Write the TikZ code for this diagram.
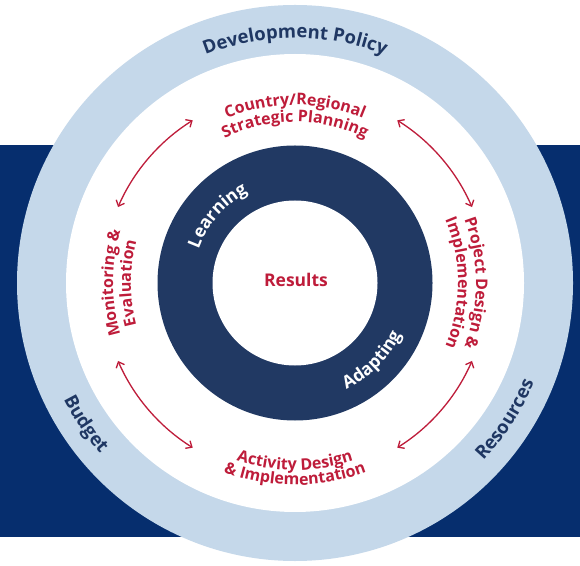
\documentclass[tikz,border=0pt]{standalone}
\usepackage{fontspec}
\setmainfont{Open Sans}
\usetikzlibrary{decorations.text,arrows.meta}
\definecolor{navybg}{RGB}{6,46,110}
\definecolor{ringdark}{RGB}{33,57,99}
\definecolor{lightband}{RGB}{197,216,234}
\definecolor{redc}{RGB}{190,28,58}
\definecolor{bandtext}{RGB}{31,55,99}
\newcommand{\redfmt}{\color{redc}\bfseries\fontsize{16}{16}\selectfont}
\newcommand{\bandfmt}{\color{bandtext}\bfseries\fontsize{18.5}{18.5}\selectfont}
\newcommand{\ringfmt}{\color{white}\bfseries\fontsize{17.5}{17.5}\selectfont}
\tikzset{
  arctext/.style={decorate, decoration={text along path, text align=center, text={#1}}},
  cyclearrow/.style={draw=redc, line width=1.3pt, {Straight Barb[length=5pt,width=9pt]}-{Straight Barb[length=5pt,width=9pt]}},
}
\begin{document}
\begin{tikzpicture}[x=1pt,y=1pt]
\useasboundingbox (0,0) rectangle (580,565);
\fill[white] (0,0) rectangle (580,565);
\fill[navybg] (0,28) rectangle (580,420);
\coordinate (C) at (295,282);
\coordinate (A) at (295,281);
\fill[lightband] (C) circle[radius=278pt];
\fill[white] (C) circle[radius=229pt];
\fill[ringdark] (C) circle[radius=137.5pt];
\fill[white] (C) circle[radius=82.5pt];
\node[font=\bfseries\fontsize{17.5}{17.5}\selectfont, text=redc] (results) at (296,285) {Results};
% outer band labels
\path[arctext={|\bandfmt|Development Policy}] ([shift={(150:245pt)}]C) arc[start angle=150, end angle=30, radius=245pt];
\path[arctext={|\bandfmt|Budget}] ([shift={(160:259pt)}]C) arc[start angle=160, end angle=268, radius=259pt];
\path[arctext={|\bandfmt|Resources}] ([shift={(-90:259pt)}]C) arc[start angle=-90, end angle=24, radius=259pt];
% dark ring labels
\path[arctext={|\ringfmt|Learning}] ([shift={(199:102pt)}]C) arc[start angle=199, end angle=79, radius=102pt];
\path[arctext={|\ringfmt|Adapting}] ([shift={(-105:118pt)}]C) arc[start angle=-105, end angle=15, radius=118pt];
% red labels
\path[arctext={|\redfmt|Country/Regional}] ([shift={(145:178pt)}]C) arc[start angle=145, end angle=35, radius=178pt];
\path[arctext={|\redfmt|Strategic Planning}] ([shift={(145:161pt)}]C) arc[start angle=145, end angle=35, radius=161pt];
\path[arctext={|\redfmt|Project Design {\&}}] ([shift={(55:181pt)}]C) arc[start angle=55, end angle=-55, radius=181pt];
\path[arctext={|\redfmt|Implementation}] ([shift={(55:163pt)}]C) arc[start angle=55, end angle=-55, radius=163pt];
\path[arctext={|\redfmt|Monitoring {\&}}] ([shift={(235:182pt)}]C) arc[start angle=235, end angle=125, radius=182pt];
\path[arctext={|\redfmt|Evaluation}] ([shift={(235:164pt)}]C) arc[start angle=235, end angle=125, radius=164pt];
\path[arctext={|\redfmt|Activity Design}] ([shift={(215:187pt)}]C) arc[start angle=215, end angle=325, radius=187pt];
\path[arctext={|\redfmt|{\&} Implementation}] ([shift={(215:202pt)}]C) arc[start angle=215, end angle=325, radius=202pt];
% cycle arrows
\draw[cyclearrow] ([shift={(156.5:193pt)}]A) coordinate (a1) arc[start angle=156.5, end angle=122, radius=193pt] coordinate (a2);
\draw[cyclearrow] ([shift={(58:193pt)}]A) coordinate (b1) arc[start angle=58, end angle=23.5, radius=193pt] coordinate (b2);
\draw[cyclearrow] ([shift={(-23.5:193pt)}]A) coordinate (c1) arc[start angle=-23.5, end angle=-58, radius=193pt] coordinate (c2);
\draw[cyclearrow] ([shift={(-122:193pt)}]A) coordinate (d1) arc[start angle=-122, end angle=-156.5, radius=193pt] coordinate (d2);
\end{tikzpicture}
\end{document}
